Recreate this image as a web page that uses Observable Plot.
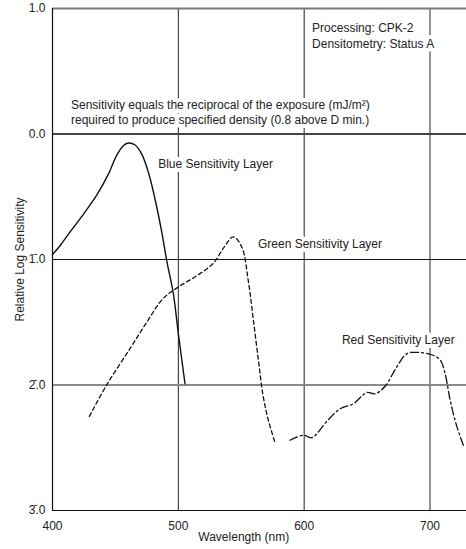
<!DOCTYPE html>
<html><head><meta charset="utf-8">
<script src="https://cdn.jsdelivr.net/npm/d3@7"></script>
<script src="https://cdn.jsdelivr.net/npm/@observablehq/plot@0.6"></script>
<style>
body{margin:0;background:#fff;}
#chart svg{font-family:"Liberation Sans",Arial,sans-serif;}
</style>
</head><body><div id="chart"></div>
<script>
// Blue sensitivity layer (solid)
const blueNm  = [400, 406, 414, 424.5, 435, 444.4, 451, 456.3, 460.3, 465.6, 470.9, 476.2, 481.5, 486.8, 490.8, 496, 500, 505.3];
const blueLog = [-0.96, -0.89, -0.78, -0.64, -0.49, -0.32, -0.17, -0.093, -0.072, -0.088, -0.16, -0.305, -0.52, -0.78, -1.01, -1.27, -1.59, -1.99];
// Green sensitivity layer (dashed)
const greenNm  = [429.3, 443, 461.6, 474.9, 488, 501.4, 514.6, 527.8, 535.8, 543.7, 550.4, 555.6, 559.6, 563.6, 567.1, 571.5, 576.9];
const greenLog = [-2.25, -2.0, -1.71, -1.50, -1.31, -1.21, -1.13, -1.03, -0.91, -0.82, -0.90, -1.17, -1.48, -1.80, -2.07, -2.28, -2.46];
// Red sensitivity layer (dash-dot)
const redNm  = [588.8, 599.4, 606, 618, 628.5, 639, 649.8, 656.4, 664.3, 673.6, 681.6, 689.5, 700, 708, 712, 716, 721.3, 726.5];
const redLog = [-2.44, -2.40, -2.42, -2.29, -2.19, -2.15, -2.06, -2.07, -2.01, -1.855, -1.75, -1.74, -1.755, -1.80, -1.91, -2.12, -2.33, -2.48];

const xTicks = [400, 500, 600, 700];
const yTicks = [1, 0, -1, -2, -3];
const yTickLabels = ["1.0", "0.0", "1\u0304.0", "2\u0304.0", "3\u0304.0"];

const toRows = (xs, ys) => xs.map((x, i) => ({x, y: ys[i]}));
const blue = toRows(blueNm, blueLog);
const green = toRows(greenNm, greenLog);
const red = toRows(redNm, redLog);

const halo = {stroke: "white", strokeWidth: 8, fill: "#222", fontSize: 12, textAnchor: "start"};

const chart = Plot.plot({
  width: 466,
  height: 549,
  marginLeft: 52,
  marginRight: 0,
  marginTop: 8,
  marginBottom: 39,
  style: {fontSize: "12px", fontFamily: "'Liberation Sans', Arial, sans-serif", color: "#222", background: "white"},
  x: {domain: [400, 729]},
  y: {domain: [-3, 1]},
  marks: [
    Plot.ruleX([500, 600, 700], {stroke: "#222", strokeWidth: 1}),
    Plot.ruleY([1], {stroke: "#7a7a7a", strokeWidth: 2}),
    Plot.ruleY([0], {stroke: "#444", strokeWidth: 2.2}),
    Plot.ruleY([-1], {stroke: "#111", strokeWidth: 1}),
    Plot.ruleY([-2], {stroke: "#8a8a8a", strokeWidth: 2}),
    Plot.ruleY([-3], {stroke: "#111", strokeWidth: 1.2}),
    Plot.ruleX([400], {stroke: "#111", strokeWidth: 1.2}),
    Plot.text(["Sensitivity equals the reciprocal of the exposure (mJ/m\u00b2)\nrequired to produce specified density (0.8 above D min.)"],
      {...halo, x: 414.7, y: 0.174, lineHeight: 1.25}),
    Plot.text(["Processing: CPK-2\nDensitometry: Status A"],
      {...halo, x: 606.3, y: 0.79, lineHeight: 1.33}),
    Plot.text(["Blue Sensitivity Layer"], {...halo, x: 484, y: -0.237}),
    Plot.text(["Green Sensitivity Layer"], {...halo, x: 563.3, y: -0.874}),
    Plot.text(["Red Sensitivity Layer"], {...halo, x: 630, y: -1.646}),
    Plot.line(blue, {x: "x", y: "y", curve: "catmull-rom", stroke: "#111", strokeWidth: 1.4}),
    Plot.line(green, {x: "x", y: "y", curve: "catmull-rom", stroke: "#111", strokeWidth: 1.3, strokeDasharray: "4,3"}),
    Plot.line(red, {x: "x", y: "y", curve: "catmull-rom", stroke: "#111", strokeWidth: 1.3, strokeDasharray: "8,3,2,3"}),
    Plot.axisX({ticks: xTicks, tickSize: 0, tickPadding: 11, label: null, fontSize: 12}),
    Plot.axisY({ticks: yTicks, tickFormat: (d) => yTickLabels[yTicks.indexOf(d)], tickSize: 0, tickPadding: 7, label: null, fontSize: 12}),
    Plot.text(["Relative Log Sensitivity"], {frameAnchor: "left", textAnchor: "middle", dx: -32, rotate: -90, fontSize: 12, fill: "#222"}),
    Plot.text(["Wavelength (nm)"], {x: () => 552, frameAnchor: "bottom", dy: 30, fontSize: 12, fill: "#222"})
  ]
});
document.getElementById("chart").append(chart);
</script>
</body></html>
